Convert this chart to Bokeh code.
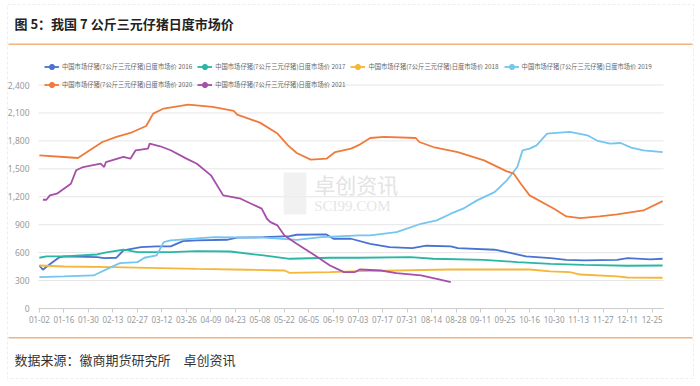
from bokeh.plotting import figure
from bokeh.models import (Range1d, FixedTicker, NumeralTickFormatter, Legend, LegendItem,
                          ColumnDataSource, Label, BoxAnnotation)
from bokeh.embed import file_html
from bokeh.resources import INLINE

# ---------------- data ----------------
tick_labels = ["01-02", "01-16", "01-30", "02-13", "02-27", "03-12", "03-26", "04-09", "04-23",
               "05-08", "05-22", "06-05", "06-19", "07-03", "07-17", "07-31", "08-14", "08-28",
               "09-11", "09-25", "10-16", "10-30", "11-13", "11-27", "12-11", "12-25"]
tick_pos = [0, 14, 28, 42, 56, 70, 84, 98, 112, 126, 140, 154, 168, 182, 196, 210, 224, 238,
            252, 266, 280, 294, 308, 322, 336, 350]
y_ticks = [0, 300, 600, 900, 1200, 1500, 1800, 2100, 2400]
n_days = 357

series_names = ["中国市场仔猪(7公斤三元仔猪)日度市场价 2016",
                "中国市场仔猪(7公斤三元仔猪)日度市场价 2017",
                "中国市场仔猪(7公斤三元仔猪)日度市场价 2018",
                "中国市场仔猪(7公斤三元仔猪)日度市场价 2019",
                "中国市场仔猪(7公斤三元仔猪)日度市场价 2020",
                "中国市场仔猪(7公斤三元仔猪)日度市场价 2021"]

x2016 = [0, 2, 5, 11, 14, 33, 37, 44, 48, 58, 67, 75, 82, 90, 107, 113, 128, 143, 147, 164, 168,
         178, 189, 200, 213, 221, 235, 239, 260, 267, 278, 292, 301, 311, 330, 336, 349, 356]
y2016 = [462, 416, 462, 545, 559, 551, 541, 545, 623, 659, 667, 667, 724, 731, 738, 760, 766, 777,
         792, 795, 749, 749, 695, 659, 648, 674, 667, 648, 631, 605, 559, 541, 523, 516, 523, 541,
         527, 534]

x2017 = [0, 4, 14, 33, 39, 48, 56, 75, 90, 109, 128, 143, 166, 183, 212, 225, 254, 273, 292, 311,
         336, 356]
y2017 = [545, 559, 559, 580, 605, 631, 605, 605, 616, 612, 570, 534, 545, 545, 551, 534, 523, 498,
         480, 469, 459, 462]

x2018 = [0, 14, 42, 62, 90, 119, 140, 143, 166, 183, 235, 280, 292, 303, 309, 330, 336, 356]
y2018 = [462, 451, 444, 437, 426, 416, 408, 383, 390, 401, 419, 419, 398, 390, 365, 344, 333, 330]

x2019 = [0, 14, 31, 33, 41, 46, 56, 60, 67, 71, 75, 100, 128, 147, 161, 183, 189, 204, 218, 227,
         235, 242, 250, 260, 267, 273, 276, 280, 284, 290, 303, 313, 319, 326, 332, 338, 345, 356]
y2019 = [337, 344, 355, 373, 444, 487, 498, 545, 570, 713, 731, 766, 760, 738, 766, 785, 785, 820,
         910, 946, 1018, 1072, 1161, 1250, 1376, 1519, 1699, 1717, 1752, 1878, 1896, 1860, 1799,
         1770, 1777, 1727, 1699, 1680]

x2020 = [0, 14, 22, 36, 44, 52, 61, 65, 71, 85, 99, 111, 113, 126, 136, 142, 147, 155, 164, 169,
         178, 183, 189, 197, 215, 217, 225, 239, 254, 267, 271, 275, 280, 294, 301, 309, 320, 330,
         345, 356]
y2020 = [1645, 1627, 1616, 1788, 1842, 1885, 1960, 2093, 2147, 2190, 2164, 2121, 2082, 1996, 1878,
         1752, 1670, 1598, 1609, 1680, 1717, 1760, 1831, 1842, 1831, 1788, 1734, 1680, 1591, 1473,
         1448, 1340, 1215, 1072, 989, 971, 989, 1010, 1053, 1153]

x2021 = [2, 4, 6, 10, 14, 18, 21, 25, 35, 37, 38, 48, 52, 55, 62, 63, 69, 75, 84, 90, 98, 105,
         115, 121, 127, 130, 132, 136, 140, 147, 159, 166, 174, 180, 183, 195, 204, 218, 227, 235]
y2021 = [1168, 1168, 1215, 1233, 1287, 1340, 1484, 1519, 1555, 1519, 1573, 1627, 1609, 1699, 1717,
         1770, 1742, 1699, 1609, 1555, 1430, 1215, 1179, 1125, 1072, 964, 928, 892, 785, 696, 551,
         462, 390, 390, 419, 408, 380, 355, 319, 283]

colors = ["#4a72d0", "#29b6a4", "#f5b63a", "#73c6ef", "#f07a3c", "#a54fa8"]

title_text = "图 5：我国 7 公斤三元仔猪日度市场价"
source_text = "数据来源：徽商期货研究所　卓创资讯"

# ---------------- geometry (page pixels) ----------------
W, H = 700, 386
PL, PR = 38, 663          # plotting area left / right
P0, P2400 = 308, 84.5     # y pixel of value 0 and 2400
ORANGE = "#f1b47e"
CJK = "Noto Sans CJK SC"

x_lo, x_hi = -0.5, n_days - 0.5
ppx = (PR - PL) / (x_hi - x_lo)
ppy = (P0 - P2400) / 2400.0
x_range = Range1d(x_lo - PL / ppx, x_hi + (W - PR) / ppx)
y_range = Range1d(-(H - P0) / ppy, P0 / ppy)

p = figure(width=W, height=H, x_range=x_range, y_range=y_range, min_border=0,
           toolbar_location=None, output_backend="svg", outline_line_color=None)
p.grid.visible = False


def scr(px, py):          # page pixel -> screen units (from frame bottom-left)
    return px, H - py


def hbox(x0, x1, y_top, y_bot, **kw):
    (l, t), (r, b) = scr(x0, y_top), scr(x1, y_bot)
    return BoxAnnotation(left=l, right=r, top=t, bottom=b, left_units="screen",
                         right_units="screen", top_units="screen", bottom_units="screen", **kw)


# page decorations
p.add_layout(hbox(7, 693, 4, 378, fill_alpha=0, line_color="#c8c8c8", line_dash="3 2",
                  line_width=1))
p.add_layout(hbox(8, 692, 43, 44.5, fill_color=ORANGE, fill_alpha=1, line_color=None))
p.add_layout(hbox(8, 692, 336.5, 338, fill_color=ORANGE, fill_alpha=1, line_color=None))
tx, ty = scr(14, 23)
p.add_layout(Label(x=tx, y=ty, x_units="screen", y_units="screen", text=title_text,
                   text_font=CJK, text_font_style="bold", text_font_size="13px",
                   text_color="#222222", text_baseline="middle"))
fx, fy = scr(14, 359)
p.add_layout(Label(x=fx, y=fy, x_units="screen", y_units="screen", text=source_text,
                   text_font=CJK, text_font_size="13px", text_color="#333333",
                   text_baseline="middle"))

# horizontal grid lines limited to the plotting area
p.segment(x0=[x_lo] * len(y_ticks), x1=[x_hi] * len(y_ticks), y0=y_ticks, y1=y_ticks,
          line_color="#e6e6e6", line_width=1, level="underlay")

# watermark
p.add_layout(BoxAnnotation(left=139.5, right=152.5, bottom=1010, top=1460,
                           fill_color="#eeeeee", fill_alpha=0.8, line_color=None,
                           level="underlay"))
p.add_layout(Label(x=157, y=1342, text="卓创资讯", text_font=CJK, text_font_size="21px",
                   text_color="#e3e3e3", text_baseline="middle", level="underlay"))
p.add_layout(Label(x=157, y=1106, text="SCI99.COM", text_font="Liberation Serif",
                   text_font_size="15px", text_color="#e6e6e6", text_baseline="middle",
                   level="underlay"))

xs_all = [x2016, x2017, x2018, x2019, x2020, x2021]
ys_all = [y2016, y2017, y2018, y2019, y2020, y2021]
items = []
for name, xs, ys, c in zip(series_names, xs_all, ys_all, colors):
    src = ColumnDataSource(dict(x=xs, y=ys))
    r = p.line("x", "y", source=src, line_color=c, line_width=1.8)
    m = p.scatter("x", "y", source=src, size=7, fill_color=c, line_color=c, visible=False)
    items.append(LegendItem(label=name, renderers=[r, m]))

lx, ly = scr(44, 90.5)
legend = Legend(items=items, orientation="horizontal", ncols=4, location=(lx, ly),
                margin=0, padding=6, spacing=5, glyph_width=15, glyph_height=13,
                label_height=13, label_standoff=3, label_text_font=CJK,
                label_text_font_size="6.3px", label_text_color="#666666",
                background_fill_alpha=0, border_line_color=None,
                inactive_fill_alpha=0)
p.add_layout(legend, "center")

ya = p.yaxis[0]
ya.fixed_location = x_lo
ya.ticker = FixedTicker(ticks=y_ticks)
ya.formatter = NumeralTickFormatter(format="0,0")
ya.axis_line_color = None
ya.major_tick_line_color = None
ya.minor_tick_line_color = None
ya.major_label_text_color = "#999999"
ya.major_label_text_font = "Noto Sans"
ya.major_label_text_font_size = "8.5px"
ya.major_label_standoff = 3

xa = p.xaxis[0]
xa.fixed_location = 0
xa.bounds = (x_lo, x_hi)
xa.ticker = FixedTicker(ticks=tick_pos)
xa.major_label_overrides = {t: l for t, l in zip(tick_pos, tick_labels)}
xa.axis_line_color = "#cccccc"
xa.major_tick_line_color = "#cccccc"
xa.major_tick_in = 0
xa.major_tick_out = 4
xa.minor_tick_line_color = None
xa.major_label_text_color = "#999999"
xa.major_label_text_font = "Noto Sans"
xa.major_label_text_font_size = "8px"
xa.major_label_standoff = 3

open("out.html", "w").write(file_html(p, INLINE))
